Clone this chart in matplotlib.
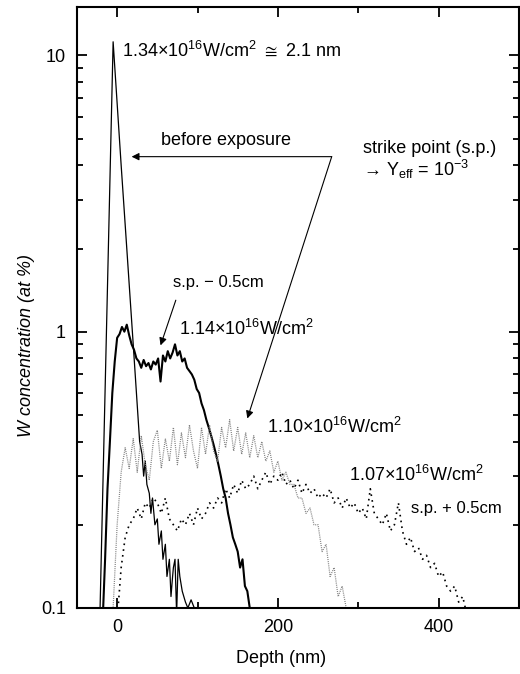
import matplotlib
matplotlib.use("Agg")
import matplotlib.pyplot as plt
from matplotlib.ticker import LogLocator, NullFormatter, FixedLocator

plt.rcParams['font.family'] = ['Liberation Sans', 'DejaVu Sans']
plt.rcParams['mathtext.default'] = 'regular'
plt.rcParams['font.size'] = 13

# before exposure (sharp surface peak)
depth_before = [-22, -5, 0, 5, 12, 20, 28, 31, 33, 35, 37, 40, 42, 44, 47, 50, 52, 55,
                57, 60, 62, 65, 67, 69, 70, 72, 74, 76, 78, 81, 85, 88, 92, 96, 100]
conc_before = [0.08, 11.2, 6.7, 4.0, 2.0, 0.9, 0.40, 0.36, 0.30, 0.34, 0.28, 0.26, 0.22,
               0.25, 0.20, 0.21, 0.17, 0.19, 0.15, 0.17, 0.13, 0.15, 0.11, 0.13, 0.14,
               0.15, 0.095, 0.15, 0.13, 0.115, 0.105, 0.10, 0.107, 0.10, 0.095]

# 1.14e16 W/cm2, s.p. - 0.5cm (thick solid)
depth_114 = [-18, -15, -12, -9, -6, -3, 0, 3, 6, 9, 12, 15, 18, 21, 24, 27, 30, 33, 36,
             39, 42, 45, 48, 51, 54, 57, 60, 63, 66, 69, 72, 75, 78, 81, 84, 87, 90, 93,
             96, 99, 102, 105, 108, 111, 114, 117, 120, 123, 126, 129, 132, 135, 138,
             141, 144, 147, 150, 153, 156, 159, 162, 165, 168]
conc_114 = [0.09, 0.15, 0.27, 0.40, 0.60, 0.78, 0.95, 0.98, 1.04, 1.00, 1.06, 0.97, 0.90,
            0.86, 0.80, 0.78, 0.74, 0.79, 0.75, 0.77, 0.73, 0.78, 0.76, 0.80, 0.66, 0.82,
            0.78, 0.85, 0.80, 0.84, 0.90, 0.82, 0.85, 0.78, 0.80, 0.74, 0.72, 0.70, 0.67,
            0.62, 0.60, 0.55, 0.52, 0.48, 0.45, 0.42, 0.39, 0.36, 0.33, 0.30, 0.27, 0.25,
            0.22, 0.20, 0.18, 0.17, 0.16, 0.14, 0.15, 0.12, 0.115, 0.10, 0.09]

# 1.10e16 W/cm2, strike point (grey dotted)
depth_110 = [-10, -5, 0, 5, 10, 15, 20, 25, 30, 35, 40, 45, 50, 55, 60, 65, 70, 75, 80,
             85, 90, 95, 100, 105, 110, 115, 120, 125, 130, 135, 140, 145, 150, 155, 160,
             165, 170, 175, 180, 185, 190, 195, 200, 205, 210, 215, 220, 225, 230, 235,
             240, 245, 250, 255, 260, 265, 270, 275, 280, 285, 290]
conc_110 = [0.08, 0.10, 0.20, 0.31, 0.38, 0.32, 0.41, 0.31, 0.42, 0.33, 0.29, 0.40, 0.44,
            0.32, 0.41, 0.34, 0.45, 0.33, 0.43, 0.35, 0.46, 0.37, 0.32, 0.45, 0.36, 0.46,
            0.37, 0.34, 0.45, 0.38, 0.48, 0.37, 0.45, 0.36, 0.43, 0.35, 0.42, 0.35, 0.40,
            0.34, 0.37, 0.31, 0.34, 0.29, 0.31, 0.28, 0.28, 0.25, 0.25, 0.22, 0.23, 0.20,
            0.20, 0.16, 0.17, 0.13, 0.14, 0.11, 0.12, 0.10, 0.09]

# 1.07e16 W/cm2, s.p. + 0.5cm (black dotted)
depth_107 = [0, 5, 10, 15, 20, 25, 30, 35, 40, 45, 50, 55, 60, 65, 70, 75, 80, 85, 90,
             95, 100, 105, 110, 115, 120, 125, 130, 135, 140, 145, 150, 155, 160, 165,
             170, 175, 180, 185, 190, 195, 200, 205, 210, 215, 220, 225, 230, 235, 240,
             245, 250, 255, 260, 265, 270, 275, 280, 285, 290, 295, 300, 305, 310, 315,
             320, 325, 330, 335, 340, 345, 350, 355, 360, 365, 370, 375, 380, 385, 390,
             395, 400, 405, 410, 415, 420, 425, 430, 435]
conc_107 = [0.09, 0.14, 0.18, 0.20, 0.21, 0.23, 0.21, 0.24, 0.23, 0.25, 0.24, 0.22, 0.25,
            0.21, 0.20, 0.19, 0.21, 0.20, 0.22, 0.20, 0.23, 0.21, 0.22, 0.24, 0.23, 0.25,
            0.24, 0.27, 0.25, 0.28, 0.26, 0.29, 0.27, 0.28, 0.30, 0.27, 0.29, 0.31, 0.28,
            0.30, 0.29, 0.31, 0.28, 0.29, 0.27, 0.29, 0.26, 0.28, 0.26, 0.27, 0.25, 0.26,
            0.25, 0.27, 0.24, 0.25, 0.23, 0.25, 0.23, 0.24, 0.22, 0.23, 0.21, 0.27, 0.22,
            0.21, 0.20, 0.22, 0.19, 0.20, 0.24, 0.19, 0.17, 0.18, 0.16, 0.165, 0.15, 0.155,
            0.14, 0.145, 0.13, 0.135, 0.12, 0.115, 0.12, 0.105, 0.11, 0.095]

fig = plt.figure(figsize=(5.2, 6.74), dpi=100)
ax = fig.add_axes([0.148, 0.098, 0.850, 0.892])

ax.plot(depth_before, conc_before, color='black', lw=0.9)
ax.plot(depth_114, conc_114, color='black', lw=1.5)
ax.plot(depth_110, conc_110, color='0.5', lw=0.9, ls=(0, (0.8, 0.9)))
ax.plot(depth_107, conc_107, color='black', lw=1.2, ls=(0, (1, 2.5)))

ax.set_yscale('log')
ax.set_xlim(-50, 500)
ax.set_ylim(0.1, 15)

ax.set_xticks([0, 200, 400])
ax.xaxis.set_minor_locator(FixedLocator([100, 300]))
ax.set_yticks([0.1, 1, 10])
ax.set_yticklabels(['0.1', '1', '10'])
ax.yaxis.set_minor_locator(LogLocator(base=10, subs=range(2, 10)))
ax.yaxis.set_minor_formatter(NullFormatter())

ax.tick_params(which='both', direction='in', top=True, right=True, width=1.3)
ax.tick_params(which='major', length=7, pad=8)
ax.tick_params(which='minor', length=4)
for s in ax.spines.values():
    s.set_linewidth(1.5)

ax.set_xlabel('Depth (nm)')
ax.xaxis.set_label_coords(0.4615, -0.07)
ax.set_ylabel('W concentration (at %)', style='italic')
ax.yaxis.set_label_coords(-0.095, 0.437)

ax.text(6, 10, r'1.34×10$^{16}$W/cm$^{2}$ $\cong$ 2.1 nm', va='baseline')
ax.text(54, 4.73, 'before exposure', va='baseline')
ax.text(306, 4.42, 'strike point (s.p.)', va='baseline')
ax.text(306, 3.65, '→ Y$_{eff}$ = 10$^{-3}$', va='baseline')
ax.text(70, 1.447, 's.p. − 0.5cm', va='baseline', fontsize=12)
ax.text(77, 0.97, '1.14×10$^{16}$W/cm$^{2}$', va='baseline')
ax.text(186, 0.428, '1.10×10$^{16}$W/cm$^{2}$', va='baseline')
ax.text(288, 0.287, '1.07×10$^{16}$W/cm$^{2}$', va='baseline')
ax.text(366, 0.221, 's.p. + 0.5cm', va='baseline', fontsize=12)

arrow = dict(arrowstyle='-|>', lw=0.8, color='black', mutation_scale=11,
             shrinkA=0, shrinkB=0)
ax.annotate('', xy=(18, 4.3), xytext=(267, 4.3), arrowprops=arrow)
ax.annotate('', xy=(162, 0.485), xytext=(267, 4.3), arrowprops=arrow)
ax.annotate('', xy=(54, 0.892), xytext=(73, 1.30), arrowprops=arrow)

fig.savefig('out.png', dpi=100)
